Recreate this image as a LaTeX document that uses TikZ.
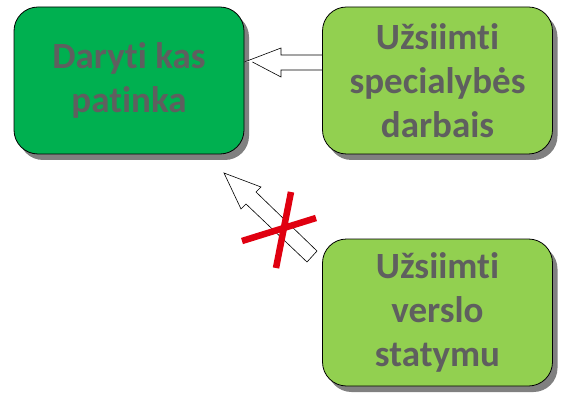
\documentclass[tikz,border=0pt]{standalone}
\usepackage{fontspec}
\setmainfont[Ligatures={NoCommon}]{Carlito}
\usetikzlibrary{shadows}
\definecolor{darkg}{HTML}{00B050}
\definecolor{lightg}{HTML}{92D050}
\definecolor{txt}{HTML}{5F5F5F}
\definecolor{redx}{HTML}{E00010}
\tikzset{
  box/.style={draw=black, line width=0.8pt, rounded corners=24pt, minimum width=230pt, minimum height=147pt,
    align=center, text=txt, font=\bfseries\fontsize{37}{44}\selectfont, inner sep=0pt,
    drop shadow={shadow xshift=5pt, shadow yshift=-6pt, fill=black!50, opacity=1}},
  blockarrow/.style={draw=black, line width=0.6pt, fill=white, line join=miter},
  cross/.style={draw=redx, line width=6.5pt}
}
\begin{document}
\begin{tikzpicture}[x=1pt,y=-1pt]
\useasboundingbox (0,0) rectangle (561,395);
\node[box, fill=darkg] (a) at (129,80.5) {Daryti kas\\patinka};
\node[box, fill=lightg] (b) at (437.5,80.5) {Užsiimti\\specialybės\\darbais};
\node[box, fill=lightg] (c) at (437.5,312.5) {Užsiimti\\verslo\\statymu};
% horizontal block arrow from b to a
\draw[blockarrow] (b.west |- 0,55) -- (281,55) -- (281,48) -- (a.east |- 0,62) ++(8,0) -- (281,77) -- (281,70) -- (b.west |- 0,70);
% diagonal block arrow from c towards a
\draw[blockarrow] (307,262) -- (246,204) -- (241,209) -- (224,173) -- (261,187) -- (256,192) -- (317,251) -- cycle;
% red cross
\draw[cross] (242,241) -- (316,218);
\draw[cross] (291,192) -- (276,268);
\end{tikzpicture}
\end{document}
